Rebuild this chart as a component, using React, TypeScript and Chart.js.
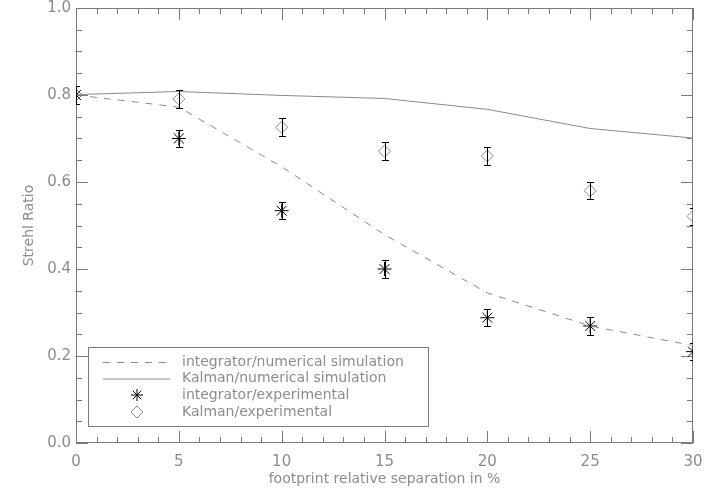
import React, { useEffect, useRef } from "react";
import { Chart, registerables } from "chart.js";

Chart.register(...registerables);

const separation = [0, 5, 10, 15, 20, 25, 30];
const integratorSim = [0.8, 0.772, 0.635, 0.479, 0.345, 0.269, 0.224];
const kalmanSim = [0.801, 0.808, 0.799, 0.792, 0.767, 0.723, 0.701];
const integratorExp = [0.8, 0.7, 0.534, 0.4, 0.288, 0.269, 0.21];
const kalmanExp = [0.8, 0.791, 0.726, 0.671, 0.66, 0.58, 0.521];
const expError = 0.02;

const legendLabels = [
  "integrator/numerical simulation",
  "Kalman/numerical simulation",
  "integrator/experimental",
  "Kalman/experimental",
];
const xTitle = "footprint relative separation in %";
const yTitle = "Strehl Ratio";

const AXIS = "#7a7a7a";
const TEXT = "#8c8c8c";
const FONT = "DejaVu Sans";

const framePlugin = {
  id: "idlFrame",
  beforeDatasetsDraw(chart: any) {
    const ctx = chart.ctx;
    const { left, right, top, bottom } = chart.chartArea;
    const xs = chart.scales.x;
    const ys = chart.scales.y;
    ctx.save();
    ctx.strokeStyle = AXIS;
    ctx.lineWidth = 1;
    ctx.beginPath();
    ctx.rect(left + 0.5, top + 0.5, right - left - 1, bottom - top - 1);
    ctx.stroke();
    for (let v = 0; v <= 30; v += 1) {
      const px = Math.round(xs.getPixelForValue(v)) + 0.5;
      const len = v % 5 === 0 ? 12 : 6;
      ctx.beginPath();
      ctx.moveTo(px, bottom);
      ctx.lineTo(px, bottom - len);
      ctx.moveTo(px, top);
      ctx.lineTo(px, top + len);
      ctx.stroke();
    }
    for (let i = 0; i <= 20; i++) {
      const v = i * 0.05;
      const py = Math.round(ys.getPixelForValue(v)) + 0.5;
      const len = i % 4 === 0 ? 12 : 6;
      ctx.beginPath();
      ctx.moveTo(left, py);
      ctx.lineTo(left + len, py);
      ctx.moveTo(right, py);
      ctx.lineTo(right - len, py);
      ctx.stroke();
    }
    ctx.fillStyle = TEXT;
    ctx.font = `14px "${FONT}"`;
    ctx.textAlign = "center";
    ctx.textBaseline = "middle";
    ctx.fillText(xTitle, (left + right) / 2, 479);
    ctx.save();
    ctx.translate(29, (top + bottom) / 2);
    ctx.rotate(-Math.PI / 2);
    ctx.fillText(yTitle, 0, 0);
    ctx.restore();
    ctx.restore();
  },
  afterDatasetsDraw(chart: any) {
    const ctx = chart.ctx;
    const { left, right, top, bottom } = chart.chartArea;
    const xs = chart.scales.x;
    const ys = chart.scales.y;
    ctx.save();
    ctx.beginPath();
    ctx.rect(left, top, right - left, bottom - top);
    ctx.clip();
    ctx.strokeStyle = "#000";
    ctx.lineWidth = 1;
    const drawErr = (arr: number[]) => {
      arr.forEach((v, i) => {
        const px = Math.round(xs.getPixelForValue(separation[i])) + 0.5;
        const y1 = Math.round(ys.getPixelForValue(v + expError)) + 0.5;
        const y2 = Math.round(ys.getPixelForValue(v - expError)) + 0.5;
        ctx.beginPath();
        ctx.moveTo(px, y1);
        ctx.lineTo(px, y2);
        ctx.moveTo(px - 3.5, y1);
        ctx.lineTo(px + 3.5, y1);
        ctx.moveTo(px - 3.5, y2);
        ctx.lineTo(px + 3.5, y2);
        ctx.stroke();
      });
    };
    drawErr(integratorExp);
    drawErr(kalmanExp);
    ctx.restore();

    ctx.save();
    const bx = 88, by = 347, bw = 340, bh = 79;
    ctx.strokeStyle = AXIS;
    ctx.lineWidth = 1;
    ctx.strokeRect(bx + 0.5, by + 0.5, bw, bh);
    const rows = [362, 378.5, 395, 412];
    const lx1 = 103, lx2 = 170, sx = 137, tx = 182;
    ctx.strokeStyle = "#8a8a8a";
    ctx.setLineDash([7, 7]);
    ctx.beginPath();
    ctx.moveTo(lx1, rows[0] + 0.5);
    ctx.lineTo(lx2, rows[0] + 0.5);
    ctx.stroke();
    ctx.setLineDash([]);
    ctx.beginPath();
    ctx.moveTo(lx1, rows[1] + 0.5);
    ctx.lineTo(lx2, rows[1] + 0.5);
    ctx.stroke();
    ctx.strokeStyle = "#000";
    const r = 6;
    ctx.beginPath();
    for (let k = 0; k < 4; k++) {
      const a = (k * Math.PI) / 4;
      ctx.moveTo(sx - r * Math.cos(a), rows[2] - r * Math.sin(a));
      ctx.lineTo(sx + r * Math.cos(a), rows[2] + r * Math.sin(a));
    }
    ctx.stroke();
    ctx.strokeStyle = "#8a8a8a";
    ctx.beginPath();
    ctx.moveTo(sx, rows[3] - 6);
    ctx.lineTo(sx + 6, rows[3]);
    ctx.lineTo(sx, rows[3] + 6);
    ctx.lineTo(sx - 6, rows[3]);
    ctx.closePath();
    ctx.stroke();
    ctx.fillStyle = TEXT;
    ctx.font = `14px "${FONT}"`;
    ctx.textAlign = "left";
    ctx.textBaseline = "middle";
    legendLabels.forEach((t, i) => ctx.fillText(t, tx, rows[i]));
    ctx.restore();
  },
};

export default function App() {
  const ref = useRef<HTMLCanvasElement>(null);
  useEffect(() => {
    if (!ref.current) return;
    const chart = new Chart(ref.current, {
      type: "line",
      data: {
        datasets: [
          {
            label: legendLabels[0],
            data: separation.map((x, i) => ({ x, y: integratorSim[i] })),
            borderColor: "#8a8a8a",
            borderWidth: 1,
            borderDash: [7, 7],
            pointRadius: 0,
            tension: 0,
          },
          {
            label: legendLabels[1],
            data: separation.map((x, i) => ({ x, y: kalmanSim[i] })),
            borderColor: "#8a8a8a",
            borderWidth: 1,
            pointRadius: 0,
            tension: 0,
          },
          {
            label: legendLabels[2],
            data: separation.map((x, i) => ({ x, y: integratorExp[i] })),
            showLine: false,
            pointStyle: "star",
            pointRadius: 7,
            pointBorderColor: "#000",
            pointBackgroundColor: "#000",
            pointBorderWidth: 1,
            borderColor: "#000",
          },
          {
            label: legendLabels[3],
            data: separation.map((x, i) => ({ x, y: kalmanExp[i] })),
            showLine: false,
            pointStyle: "rectRot",
            pointRadius: 6,
            pointBorderColor: "#8a8a8a",
            pointBackgroundColor: "rgba(0,0,0,0)",
            pointBorderWidth: 1,
            borderColor: "#8a8a8a",
          },
        ],
      },
      options: {
        animation: false,
        responsive: false,
        maintainAspectRatio: false,
        layout: { padding: { top: 5, right: 27, left: 0, bottom: 0 } },
        plugins: { legend: { display: false }, tooltip: { enabled: false } },
        scales: {
          x: {
            type: "linear",
            min: 0,
            max: 30,
            grid: { display: false, drawTicks: false },
            border: { display: false },
            afterFit: (s: any) => {
              s.height = 50;
              s.paddingLeft = 0;
              s.paddingRight = 0;
            },
            ticks: {
              stepSize: 5,
              padding: 10,
              color: TEXT,
              font: { family: FONT, size: 15 },
              maxRotation: 0,
              autoSkip: false,
            },
          },
          y: {
            type: "linear",
            min: 0,
            max: 1,
            grid: { display: false, drawTicks: false },
            border: { display: false },
            afterFit: (s: any) => {
              s.width = 76;
              s.paddingTop = 0;
              s.paddingBottom = 0;
            },
            ticks: {
              stepSize: 0.2,
              padding: 5,
              color: TEXT,
              font: { family: FONT, size: 15 },
              callback: (v: any) => Number(v).toFixed(1),
            },
          },
        },
      },
      plugins: [framePlugin],
    });
    return () => chart.destroy();
  }, []);
  return (
    <div style={{ position: "fixed", left: 0, top: 0, width: 720, height: 493, background: "#fff" }}>
      <canvas ref={ref} width={720} height={493} style={{ display: "block" }} />
    </div>
  );
}
